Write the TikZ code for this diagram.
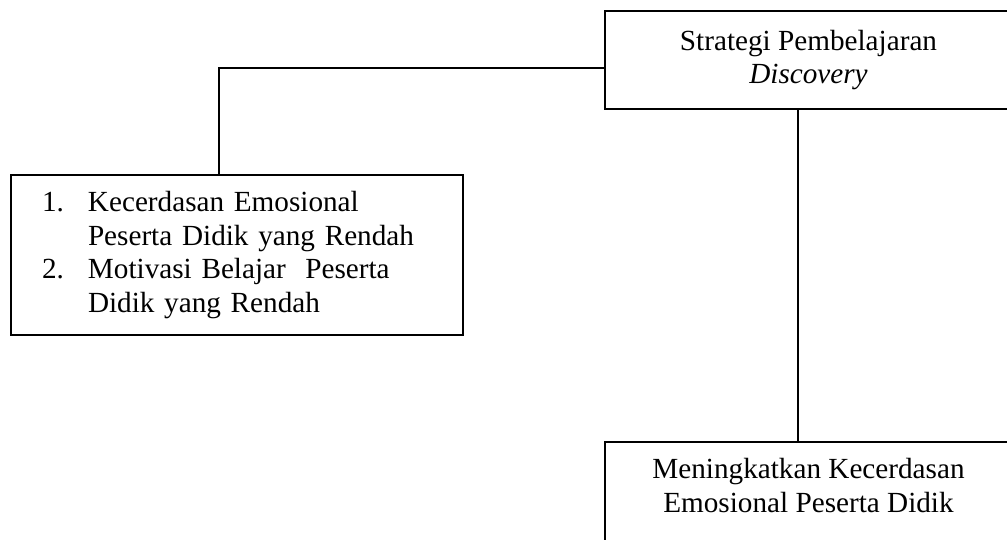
\documentclass[tikz,border=0pt]{standalone}
\usepackage{fontspec}
\setmainfont{Liberation Serif}
\usetikzlibrary{positioning}

\newcommand{\nomor}[1]{\makebox[46pt][l]{#1}}

\tikzset{
  frame/.style={draw, line width=2pt, inner sep=0pt},
  txt/.style={inner sep=0pt, align=center, font=\fontsize{29.2}{33.6}\selectfont},
  link/.style={line width=2pt},
}

\begin{document}
\begin{tikzpicture}[x=1pt,y=-1pt]
    % batas gambar
    \useasboundingbox (0,0) rectangle (1007,540);
    \clip (0,0) rectangle (1007,540);

    % kotak
    \node[frame, minimum width=440, minimum height=98, anchor=south west] (strategi) at (604,110) {};
    \node[frame, minimum height=160, text width=389, inner xsep=31.5, align=left,
          font=\fontsize{29.2}{33.6}\selectfont, anchor=north west] (masalah) at (9.5,174)
        {\nomor{1.}Kecerdasan Emosional\\
         \hspace*{46pt}Peserta Didik yang Rendah\\
         \nomor{2.}Motivasi Belajar\ \ Peserta\\
         \hspace*{46pt}Didik yang Rendah};
    \node[frame, minimum width=440, minimum height=120, anchor=north west] (hasil) at (604,441) {};

    % teks
    \node[txt] (strategiTeks) at (808.5,60) {Strategi Pembelajaran\\\textit{Discovery}};
    \node[txt, anchor=north] (hasilTeks) at (808.5,458) {Meningkatkan Kecerdasan\\Emosional Peserta Didik};

    % garis penghubung
    \coordinate (cabang) at (219,68);
    \draw[link] (cabang -| strategi.west) -- (cabang) -- (cabang |- masalah.north);
    \coordinate (tiang) at ([xshift=194pt]strategi.south west);
    \draw[link] (tiang) -- (tiang |- hasil.north);
\end{tikzpicture}
\end{document}
